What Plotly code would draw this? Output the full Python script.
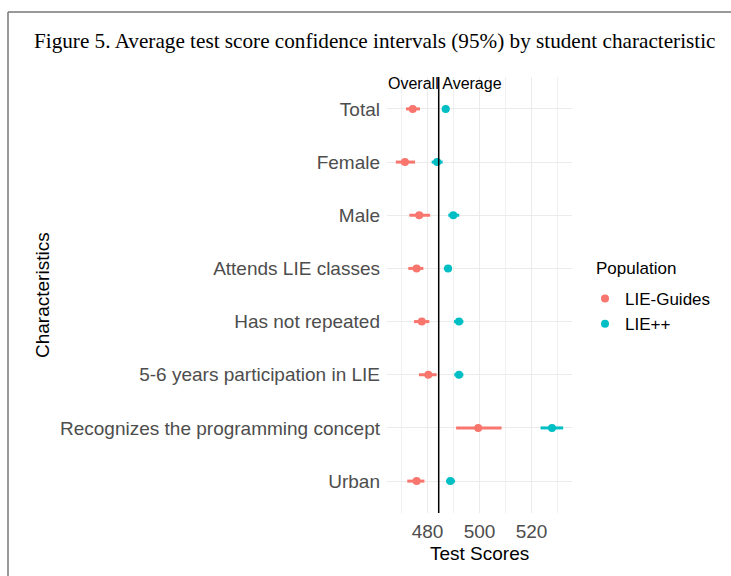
import plotly.graph_objects as go

categories = ["Total", "Female", "Male", "Attends LIE classes", "Has not repeated",
              "5-6 years participation in LIE", "Recognizes the programming concept", "Urban"]

guides_mean = [474.3, 471.3, 476.8, 475.8, 477.8, 480.3, 499.5, 475.8]
guides_low = [471.7, 467.8, 473.0, 472.6, 474.8, 476.7, 491.0, 472.2]
guides_high = [477.1, 475.2, 481.0, 478.4, 480.7, 483.5, 508.5, 478.8]

plus_mean = [487.0, 483.7, 489.9, 487.9, 492.1, 492.1, 527.9, 488.8]
plus_low = [485.5, 481.6, 488.0, 486.3, 490.2, 490.3, 523.5, 487.1]
plus_high = [488.4, 485.8, 492.2, 489.4, 493.8, 493.8, 532.2, 490.6]

overall_average = 484.3
series_names = ["LIE-Guides", "LIE++"]
colors = ["#F8766D", "#00BFC4"]
x_ticks = [480, 500, 520]

W, H = 731, 576
L, R, T, B = 387, 572, 77, 513
pw, ph = R - L, B - T


def px(xp):
    return (xp - L) / pw


def py(yp):
    return (B - yp) / ph


fig = go.Figure()
for name, col, m, lo, hi in [
    (series_names[0], colors[0], guides_mean, guides_low, guides_high),
    (series_names[1], colors[1], plus_mean, plus_low, plus_high),
]:
    fig.add_trace(go.Scatter(
        x=m, y=categories, mode="markers", name=name,
        marker=dict(color=col, size=8),
        error_x=dict(type="data", symmetric=False,
                     array=[h - v for h, v in zip(hi, m)],
                     arrayminus=[v - l for v, l in zip(m, lo)],
                     color=col, thickness=3, width=0),
    ))

fig.add_vline(x=overall_average, line=dict(color="black", width=1.5))

fig.add_annotation(x=486.7, xref="x", y=py(84), yref="paper", text="Overall Average",
                   showarrow=False, font=dict(size=16, color="black"),
                   xanchor="center", yanchor="middle")

# title
fig.add_annotation(x=px(32), xref="paper", y=py(41), yref="paper",
                   text="Figure 5. Average test score confidence intervals (95%) by student characteristic",
                   showarrow=False, xanchor="left", yanchor="middle",
                   font=dict(family="Liberation Serif", size=21.2, color="black"))
# axis titles
fig.add_annotation(x=0.5 * (px(387) + px(572)), xref="paper", y=py(553), yref="paper",
                   text="Test Scores", showarrow=False, xanchor="center", yanchor="middle",
                   font=dict(size=19, color="black"))
fig.add_annotation(x=px(42), xref="paper", y=py(295), yref="paper",
                   text="Characteristics", showarrow=False, textangle=-90,
                   xanchor="center", yanchor="middle",
                   font=dict(size=19, color="black"))
# legend title
fig.add_annotation(x=px(594), xref="paper", y=py(268), yref="paper",
                   text="Population", showarrow=False, xanchor="left", yanchor="middle",
                   font=dict(size=17, color="black"))

# frame
frame = dict(color="#777777", width=1.5)
fig.add_shape(type="line", xref="paper", yref="paper", x0=px(8), x1=px(W + 5),
              y0=py(12), y1=py(12), line=frame)
fig.add_shape(type="line", xref="paper", yref="paper", x0=px(8), x1=px(8),
              y0=py(12), y1=py(H + 5), line=frame)

fig.update_layout(
    width=W, height=H,
    margin=dict(l=L, r=W - R, t=T, b=H - B),
    paper_bgcolor="white", plot_bgcolor="white",
    font=dict(family="Liberation Sans, Arial", color="black"),
    showlegend=True,
    legend=dict(font=dict(size=17, color="black"),
                x=px(585), xanchor="left", y=py(281), yanchor="top",
                bgcolor="rgba(0,0,0,0)", tracegroupgap=0),
    xaxis=dict(range=[464.4, 535.6], tickvals=x_ticks, showline=False, zeroline=False,
               gridcolor="#EBEBEB", gridwidth=1,
               minor=dict(dtick=10, tick0=0, gridcolor="#F0F0F0", gridwidth=1, showgrid=True),
               tickfont=dict(size=19, color="#4D4D4D"), ticks="", ticklabelstandoff=5),
    yaxis=dict(type="category", categoryorder="array", categoryarray=categories,
               range=[7.6, -0.6], showline=False, zeroline=False,
               gridcolor="#EBEBEB", gridwidth=1,
               tickfont=dict(size=19, color="#4D4D4D"), ticks="", ticklabelstandoff=6),
)

fig.write_html("out.html", config={"displayModeBar": False},
               post_script="document.body.style.margin='0';")
